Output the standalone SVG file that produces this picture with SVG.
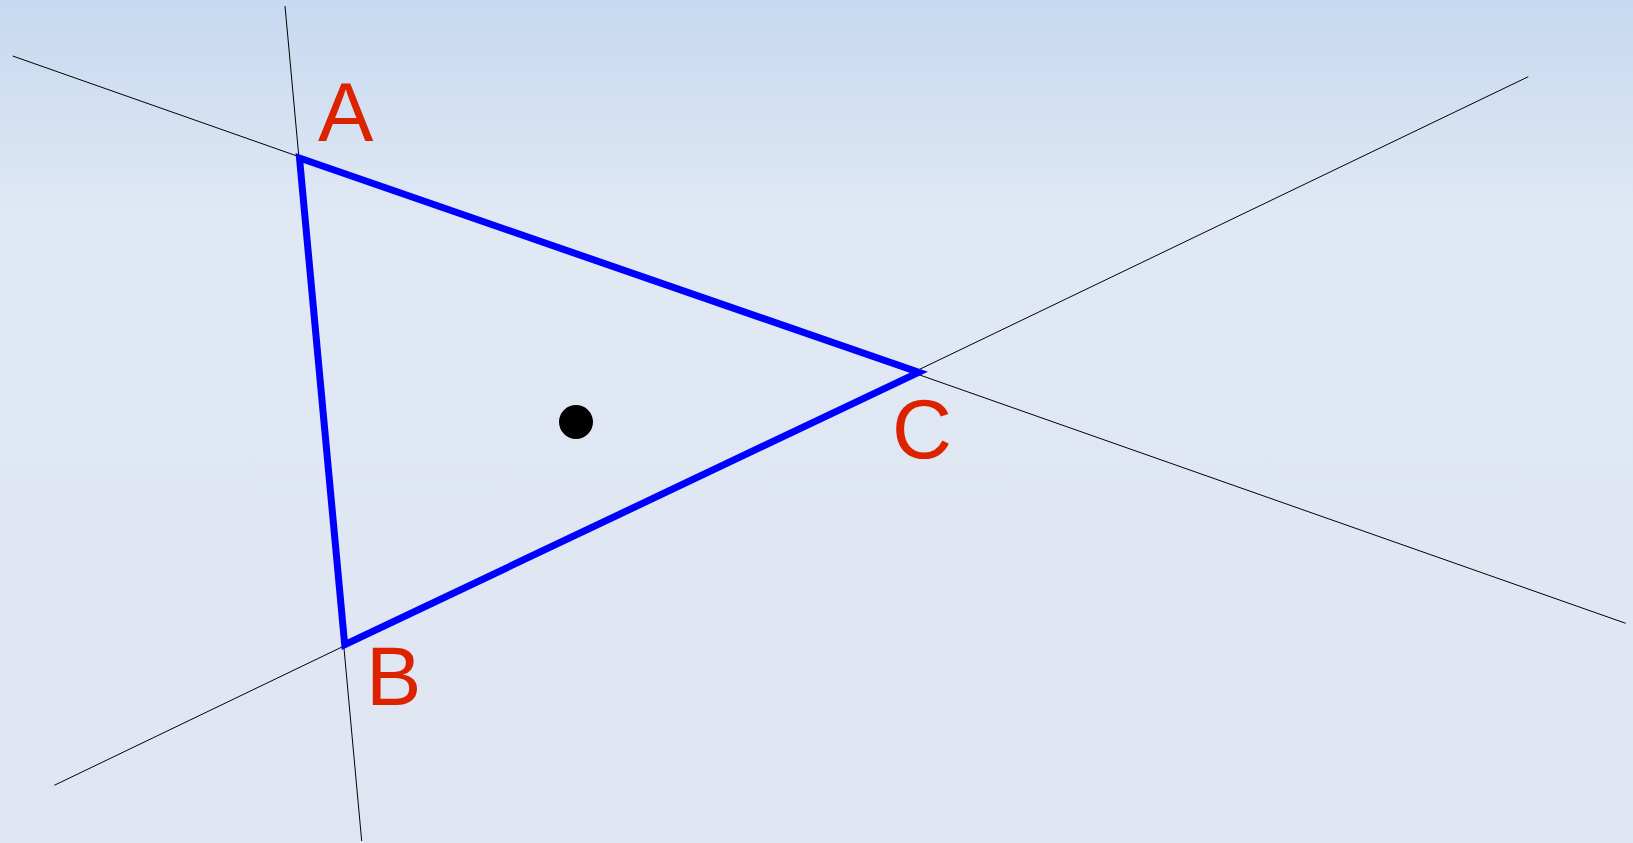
<svg xmlns="http://www.w3.org/2000/svg" width="1633" height="843" viewBox="0 0 1633 843">
<defs>
<linearGradient id="bg" x1="0" y1="0" x2="0" y2="1">
<stop offset="0" stop-color="#c6d9f0"/>
<stop offset="0.26" stop-color="#e0e8f4"/>
<stop offset="1" stop-color="#dfe6f2"/>
</linearGradient>
<style>
.ext{stroke:#000;stroke-width:1;fill:none}
.tri{stroke:#0000ff;stroke-width:7;fill:none;stroke-linejoin:miter}
.lbl{font-family:"Liberation Sans",Arial,sans-serif;font-size:83px;fill:#dd2200}
</style>
</defs>
<rect width="1633" height="843" fill="url(#bg)"/>
<g id="connectors">
<line class="ext" x1="285" y1="6" x2="361.7" y2="841"/>
<line class="ext" x1="12.7" y1="56" x2="1625.7" y2="623.3"/>
<line class="ext" x1="54.3" y1="785.3" x2="1528.3" y2="76.7"/>
</g>
<g id="triangle">
<polygon class="tri" points="299.5,158 344.7,644.7 918.7,372.3"/>
</g>
<g id="point">
<circle cx="576" cy="422" r="17" fill="#000"/>
</g>
<g id="labelA"><text class="lbl" x="318" y="141">A</text></g>
<g id="labelB"><text class="lbl" x="366" y="705">B</text></g>
<g id="labelC"><text class="lbl" x="892" y="457.5">C</text></g>
</svg>
